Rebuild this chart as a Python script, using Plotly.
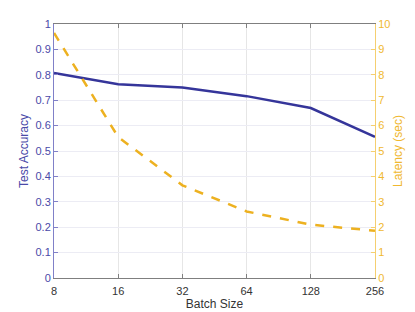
import plotly.graph_objects as go

batch_sizes = [8, 16, 32, 64, 128, 256]
test_accuracy = [0.807, 0.763, 0.750, 0.716, 0.669, 0.556]
latency_sec = [9.65, 5.55, 3.65, 2.62, 2.1, 1.86]
x_ticks = [8, 16, 32, 64, 128, 256]
acc_ticks = [round(0.1 * i, 1) for i in range(11)]
lat_ticks = list(range(11))

blue = "#35359a"
orange = "#EDB120"
font = "Liberation Sans, Arial, sans-serif"

fig = go.Figure()
fig.add_trace(go.Scatter(x=batch_sizes, y=test_accuracy, mode="lines",
                         line=dict(color=blue, width=2.5), yaxis="y", showlegend=False))
fig.add_trace(go.Scatter(x=batch_sizes, y=latency_sec, mode="lines",
                         line=dict(color=orange, width=2.5, dash="dash"), yaxis="y2", showlegend=False))

fig.update_layout(
    width=415, height=312,
    margin=dict(l=46, r=48, t=16, b=42),
    paper_bgcolor="white", plot_bgcolor="white",
    font=dict(family=font, size=11, color="#333333"),
    xaxis=dict(type="log", range=[0.90309, 2.40824], tickvals=x_ticks,
               ticktext=[str(v) for v in x_ticks], automargin=False,
               ticklabelstandoff=3,
               showgrid=True, gridcolor="#e6e6e6", gridwidth=1,
               showline=True, linecolor="#7f7f7f", linewidth=1, mirror="ticks",
               ticks="inside", ticklen=4, tickcolor="#7f7f7f",
               zeroline=False,
               title=dict(text="Batch Size", font=dict(size=12, color="#333333"), standoff=1)),
    yaxis=dict(range=[0, 1], tickvals=acc_ticks, ticktext=[f"{v:g}" for v in acc_ticks],
               automargin=False,
               showgrid=True, gridcolor="#ececf4", gridwidth=1,
               showline=True, linecolor="#8080c8", linewidth=1,
               ticks="inside", ticklen=4, tickcolor="#8080c8",
               tickfont=dict(color="#4a4aa8"), zeroline=False,
               title=dict(text="Test Accuracy", font=dict(size=12, color="#4a4aa8"), standoff=4)),
    yaxis2=dict(range=[0, 10], tickvals=lat_ticks, overlaying="y", side="right",
                automargin=False,
                showgrid=False, showline=True, linecolor="#f5cf70", linewidth=1,
                ticks="inside", ticklen=4, tickcolor="#f5cf70",
                tickfont=dict(color="#f0b830"), zeroline=False,
                title=dict(text="Latency (sec)", font=dict(size=12, color="#f0b830"), standoff=4)),
)

fig.write_html("out.html")
